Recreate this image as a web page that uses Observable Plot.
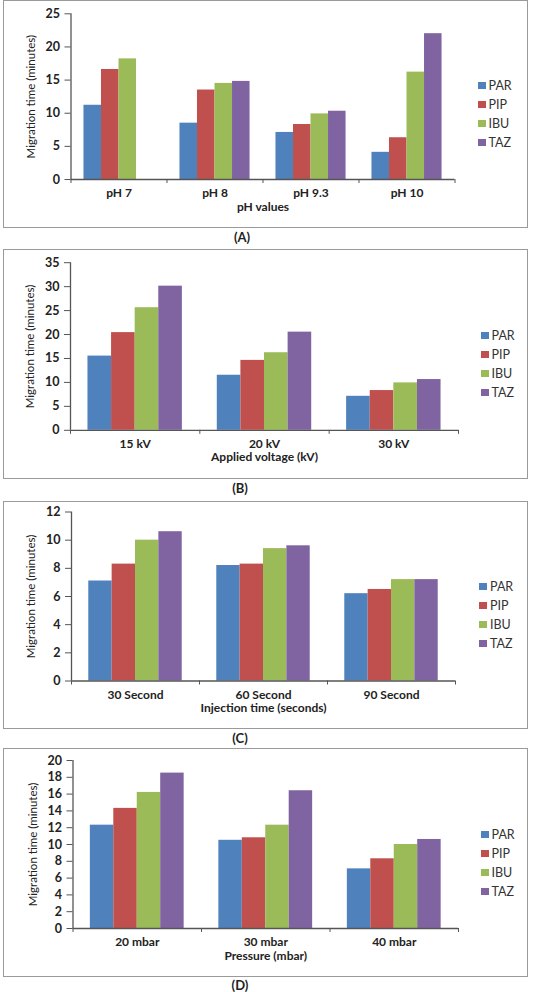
<!DOCTYPE html>
<html>
<head>
<meta charset="utf-8">
<script src="https://cdn.jsdelivr.net/npm/d3@7"></script>
<script src="https://cdn.jsdelivr.net/npm/@observablehq/plot@0.6"></script>
<style>
  body { margin: 0; background: #fff; font-family: Lato, sans-serif; }
  #root { position: relative; width: 535px; height: 992px; overflow: hidden; background: #fff; }
  .box { position: absolute; left: 3px; width: 525px; border: 1px solid #9a9a9a; box-sizing: border-box; }
  .plot { position: absolute; left: 0; }
  .item { position: absolute; display: flex; align-items: center; white-space: nowrap; font: 12.5px Lato, sans-serif; color: #333; height: 14px; }
  .sw { width: 8px; height: 7px; margin-right: 3px; display: inline-block; }
  .tag { position: absolute; font: bold 13px/1 Lato, sans-serif; color: #222; transform: translate(-50%, -50%); white-space: nowrap; }
</style>
</head>
<body>
<div id="root"></div>
<script>
// ---- shared ----
const seriesNames = ["PAR", "PIP", "IBU", "TAZ"];
const seriesColors = ["#4F81BD", "#C0504D", "#9BBB59", "#8064A2"];
const yTitle = "Migration time (minutes)";

// ---- (A) pH ----
const phCategories = ["pH 7", "pH 8", "pH 9.3", "pH 10"];
const phPAR = [11.2, 8.5, 7.1, 4.1];
const phPIP = [16.6, 13.5, 8.3, 6.3];
const phIBU = [18.2, 14.5, 9.9, 16.2];
const phTAZ = [null, 14.8, 10.3, 22.0];
const phTicks = [0, 5, 10, 15, 20, 25];
const phTitle = "pH values";

// ---- (B) voltage ----
const kvCategories = ["15 kV", "20 kV", "30 kV"];
const kvPAR = [15.5, 11.5, 7.1];
const kvPIP = [20.4, 14.6, 8.3];
const kvIBU = [25.6, 16.2, 9.9];
const kvTAZ = [30.1, 20.5, 10.6];
const kvTicks = [0, 5, 10, 15, 20, 25, 30, 35];
const kvTitle = "Applied voltage (kV)";

// ---- (C) injection time ----
const injCategories = ["30 Second", "60 Second", "90 Second"];
const injPAR = [7.1, 8.2, 6.2];
const injPIP = [8.3, 8.3, 6.5];
const injIBU = [10.0, 9.4, 7.2];
const injTAZ = [10.6, 9.6, 7.2];
const injTicks = [0, 2, 4, 6, 8, 10, 12];
const injTitle = "Injection time (seconds)";

// ---- (D) pressure ----
const prCategories = ["20 mbar", "30 mbar", "40 mbar"];
const prPAR = [12.3, 10.5, 7.1];
const prPIP = [14.3, 10.8, 8.3];
const prIBU = [16.2, 12.3, 10.0];
const prTAZ = [18.5, 16.4, 10.6];
const prTicks = [0, 2, 4, 6, 8, 10, 12, 14, 16, 18, 20];
const prTitle = "Pressure (mbar)";

const root = document.getElementById("root");

function panel(cfg) {
  const n = cfg.cats.length;
  const pad = 0.135;
  const bw = (1 - 2 * pad) / seriesNames.length;
  const rows = [];
  cfg.cats.forEach((c, i) => {
    seriesNames.forEach((s, j) => {
      const v = cfg.series[j][i];
      if (v != null) rows.push({cat: c, series: s, value: v, x1: i + pad + j * bw, x2: i + pad + (j + 1) * bw});
    });
  });
  const ymax = cfg.ticks[cfg.ticks.length - 1];

  const box = document.createElement("div");
  box.className = "box";
  box.style.top = cfg.top + "px";
  box.style.height = cfg.height + "px";
  root.appendChild(box);

  const chart = Plot.plot({
    width: 535,
    height: cfg.height,
    marginTop: cfg.mt,
    marginBottom: cfg.mb,
    marginLeft: cfg.ml,
    marginRight: cfg.mr,
    style: {fontFamily: "Lato, sans-serif", fontSize: "12px", fontWeight: "bold", color: "#222", background: "transparent", overflow: "visible"},
    x: {domain: [0, n]},
    y: {domain: [0, ymax]},
    color: {domain: seriesNames, range: seriesColors},
    marks: [
      Plot.rect(rows, {x1: "x1", x2: "x2", y1: 0, y2: "value", fill: "series"}),
      Plot.ruleY([0], {stroke: "#555", strokeWidth: 1.3}),
      Plot.ruleX([0], {y1: 0, y2: ymax, stroke: "#555", strokeWidth: 1.3}),
      Plot.axisY({ticks: cfg.ticks, tickSize: 6, tickPadding: 5, stroke: "#555", label: null, fontSize: 12.5}),
      Plot.axisX({ticks: d3.range(n + 1), tickSize: 4, tickFormat: () => "", stroke: "#555", label: null}),
      Plot.axisX({ticks: d3.range(n).map(i => i + 0.5), tickSize: 0, tickPadding: 9, tickFormat: d => cfg.cats[Math.floor(d)], label: null}),
      Plot.text([cfg.xTitle], {text: d => d, frameAnchor: "bottom", dy: 31}),
      Plot.text([yTitle], {text: d => d, frameAnchor: "left", textAnchor: "middle", dx: -40, rotate: -90, fontWeight: "normal", fontSize: 11.5})
    ]
  });
  chart.classList.add("plot");
  chart.style.top = cfg.top + "px";
  root.appendChild(chart);

  const color = chart.scale("color");
  seriesNames.forEach((s, j) => {
    const it = document.createElement("div");
    it.className = "item";
    it.style.left = cfg.legendX + "px";
    it.style.top = (cfg.legendY + j * cfg.legendStep - 7) + "px";
    const sw = document.createElement("span");
    sw.className = "sw";
    sw.style.background = color.apply(s);
    it.appendChild(sw);
    it.appendChild(document.createTextNode(s));
    root.appendChild(it);
  });

  const tag = document.createElement("div");
  tag.className = "tag";
  tag.style.left = cfg.tagX + "px";
  tag.style.top = cfg.tagY + "px";
  tag.textContent = cfg.tag;
  root.appendChild(tag);
}

panel({top: 0, height: 228, mt: 13.3, mb: 49, ml: 70.5, mr: 80.5,
  cats: phCategories, series: [phPAR, phPIP, phIBU, phTAZ], ticks: phTicks, xTitle: phTitle,
  legendX: 477.5, legendY: 85.3, legendStep: 19, tag: "(A)", tagX: 242, tagY: 237});

panel({top: 248.5, height: 230, mt: 13.2, mb: 49.2, ml: 70, mr: 77,
  cats: kvCategories, series: [kvPAR, kvPIP, kvIBU, kvTAZ], ticks: kvTicks, xTitle: kvTitle,
  legendX: 480.5, legendY: 335.3, legendStep: 19, tag: "(B)", tagX: 240, tagY: 488});

panel({top: 500.5, height: 228, mt: 10.5, mb: 48.5, ml: 71, mr: 80,
  cats: injCategories, series: [injPAR, injPIP, injIBU, injTAZ], ticks: injTicks, xTitle: injTitle,
  legendX: 479, legendY: 586, legendStep: 19, tag: "(C)", tagX: 240, tagY: 738});

panel({top: 748, height: 228.5, mt: 12, mb: 48.5, ml: 72.5, mr: 77,
  cats: prCategories, series: [prPAR, prPIP, prIBU, prTAZ], ticks: prTicks, xTitle: prTitle,
  legendX: 480.5, legendY: 834.3, legendStep: 19.1, tag: "(D)", tagX: 240, tagY: 985});
</script>
</body>
</html>
